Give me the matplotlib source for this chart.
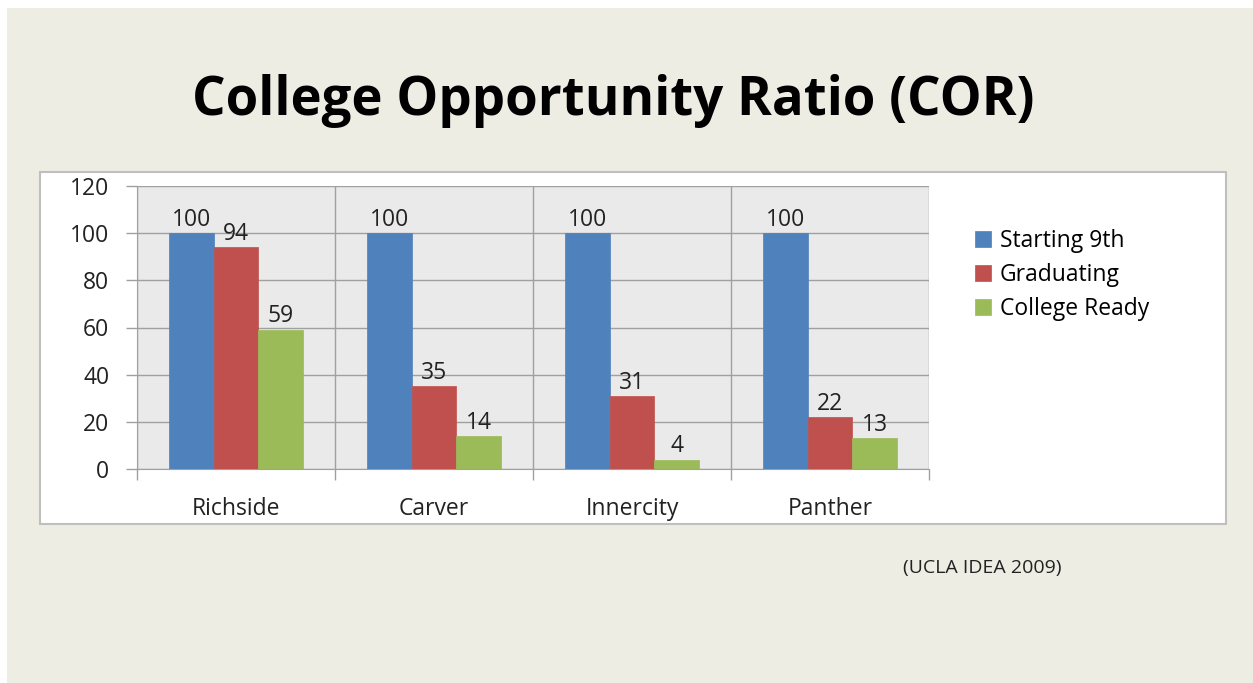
import numpy as np
import matplotlib
matplotlib.use("Agg")
import matplotlib.pyplot as plt
from matplotlib.patches import Rectangle

plt.rcParams['font.family'] = ['Open Sans', 'DejaVu Sans']

# chart data
schools = ["Richside", "Carver", "Innercity", "Panther"]
starting_9th = [100, 100, 100, 100]
graduating = [94, 35, 31, 22]
college_ready = [59, 14, 4, 13]
series_names = ["Starting 9th", "Graduating", "College Ready"]
colors = ["#4F81BD", "#C0504D", "#9BBB59"]

W, H = 1253, 683
fig = plt.figure(figsize=(W / 100, H / 100), dpi=100)
fig.patch.set_facecolor("#EEEDE3")

# white strips along top and left edge
fig.patches.append(Rectangle((0, 1 - 8 / H), 1, 8 / H, transform=fig.transFigure,
                             facecolor="white", edgecolor="none", zorder=0))
fig.patches.append(Rectangle((0, 0), 7 / W, 1, transform=fig.transFigure,
                             facecolor="white", edgecolor="none", zorder=0))

# white chart frame
fig.patches.append(Rectangle((40 / W, 1 - 524 / H), 1186 / W, 352 / H,
                             transform=fig.transFigure, facecolor="white",
                             edgecolor="#BFBFBF", linewidth=1.5, zorder=1))

ax = fig.add_axes([137 / W, 1 - 469 / H, 792 / W, 283 / H])
ax.set_zorder(2)
ax.set_facecolor("#EAEAEA")

fs = 16.5
x = np.arange(len(schools))
width = 0.225
for i, (vals, name, c) in enumerate(zip([starting_9th, graduating, college_ready], series_names, colors)):
    bars = ax.bar(x + (i - 1) * width, vals, width, color=c, label=name, zorder=3,
                  edgecolor=c, linewidth=0.5)
    ax.bar_label(bars, padding=1, fontsize=fs, color="#222222")

ax.set_xlim(-0.5, 3.5)
ax.set_ylim(0, 120)
ax.set_yticks(range(0, 121, 20))
ax.set_xticks(x)
ax.set_xticklabels(schools)
ax.set_xticks(np.arange(-0.5, 4, 1), minor=True)
ax.tick_params(axis="x", which="major", length=0, pad=20, labelsize=fs, labelcolor="#222222")
ax.tick_params(axis="x", which="minor", length=8, color="#A0A0A0", width=1)
ax.tick_params(axis="y", length=8, color="#A0A0A0", width=1, pad=12, labelsize=fs, labelcolor="#222222")
ax.grid(axis="y", color="#A0A0A0", linewidth=1, zorder=1)
ax.grid(axis="x", which="minor", color="#A0A0A0", linewidth=1, zorder=1)
ax.set_axisbelow(True)
for side in ["top", "right"]:
    ax.spines[side].set_visible(False)
ax.spines["left"].set_color("#A0A0A0")
ax.spines["bottom"].set_color("#A0A0A0")

fig.legend(loc="upper left", bbox_to_anchor=(954 / W, 1 - 208 / H), frameon=False,
           fontsize=fs, handlelength=0.7, handleheight=0.7, handletextpad=0.4,
           labelspacing=0.45)

fig.text(613 / W, 1 - 101 / H, "College Opportunity Ratio (COR)", fontsize=38,
         fontweight="bold", ha="center", va="center", color="black")
fig.text(903 / W, 1 - 568 / H, "(UCLA IDEA 2009)", fontsize=14, ha="left",
         va="center", color="#222222")

fig.savefig("out.png", dpi=100, facecolor=fig.get_facecolor())
